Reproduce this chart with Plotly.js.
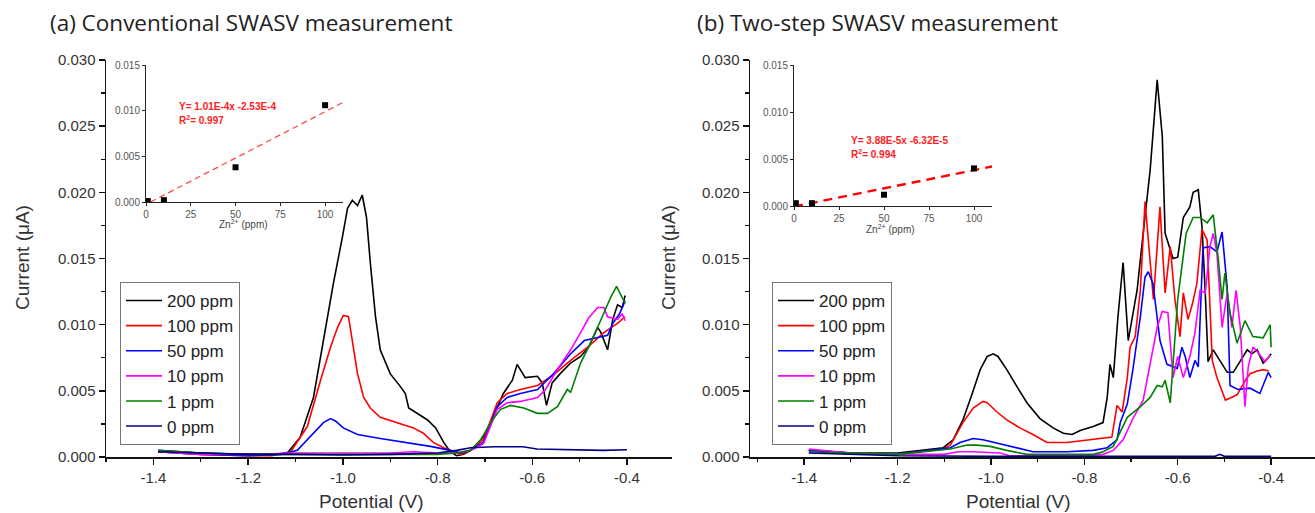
<!DOCTYPE html>
<html><head><meta charset="utf-8">
<script src="https://cdn.plot.ly/plotly-3.0.1.min.js"></script>
<style>html,body{margin:0;padding:0;background:#fff;}#chart{width:1315px;height:513px;}</style>
</head><body><div id="chart"></div>
<script>
// ---------- (a) Conventional SWASV ----------
const seriesNames = ['200 ppm','100 ppm','50 ppm','10 ppm','1 ppm','0 ppm'];
const seriesColors = ['#000000','#ff0000','#0000ff','#ff00ff','#008000','#000080'];

const convX200 = [-1.39,-1.35,-1.3,-1.25,-1.2,-1.15,-1.117,-1.09,-1.062,-1.041,-1.02,-1.001,-0.99,-0.98,-0.969,-0.959,-0.95,-0.942,-0.931,-0.921,-0.9,-0.878,-0.868,-0.861,-0.842,-0.821,-0.804,-0.787,-0.773,-0.76,-0.745,-0.73,-0.703,-0.683,-0.661,-0.642,-0.632,-0.615,-0.589,-0.579,-0.57,-0.558,-0.541,-0.519,-0.498,-0.481,-0.462,-0.455,-0.441,-0.43,-0.42,-0.41,-0.404];
const convY200 = [0.0005,0.0004,0.0003,0.00025,0.0002,0.0002,0.0003,0.0015,0.0045,0.0088,0.0131,0.0166,0.0188,0.0194,0.019,0.0198,0.0181,0.0147,0.0106,0.0081,0.0063,0.0053,0.0048,0.0037,0.0033,0.0028,0.0022,0.0011,0.0004,0.0001,0.0002,0.0005,0.0015,0.003,0.0048,0.0058,0.007,0.006,0.0061,0.0056,0.0039,0.0056,0.0063,0.0071,0.0076,0.0083,0.0098,0.0094,0.0081,0.0104,0.0115,0.0113,0.0122];

const convX100 = [-1.39,-1.3,-1.2,-1.15,-1.11,-1.075,-1.047,-1.026,-1.011,-0.999,-0.988,-0.98,-0.969,-0.956,-0.942,-0.921,-0.885,-0.851,-0.83,-0.809,-0.787,-0.766,-0.75,-0.73,-0.703,-0.674,-0.653,-0.625,-0.589,-0.555,-0.519,-0.483,-0.449,-0.42,-0.404];
const convY100 = [0.0004,0.0002,0.0001,0.0001,0.0004,0.0023,0.0058,0.0083,0.0098,0.0107,0.0106,0.0088,0.0063,0.0045,0.0037,0.003,0.0026,0.0022,0.0018,0.0011,0.0007,0.0004,0.0002,0.0005,0.0013,0.0041,0.0048,0.0051,0.0054,0.0062,0.0073,0.0083,0.0094,0.0101,0.0106];

const convX50 = [-1.39,-1.3,-1.2,-1.13,-1.096,-1.062,-1.041,-1.026,-1.015,-0.999,-0.969,-0.921,-0.864,-0.815,-0.773,-0.75,-0.73,-0.703,-0.674,-0.653,-0.625,-0.589,-0.555,-0.519,-0.49,-0.462,-0.441,-0.43,-0.416,-0.404];
const convY50 = [0.0004,0.0002,0.0001,0.0002,0.0005,0.0018,0.0026,0.0029,0.0027,0.0022,0.0017,0.0014,0.0011,0.0008,0.0005,0.0003,0.0005,0.0011,0.0038,0.0045,0.0048,0.0051,0.0063,0.0078,0.0088,0.009,0.0092,0.0101,0.0108,0.0118];

const convX10 = [-1.39,-1.3,-1.2,-1.1,-1.0,-0.9,-0.85,-0.8,-0.76,-0.73,-0.703,-0.674,-0.653,-0.625,-0.589,-0.572,-0.547,-0.519,-0.498,-0.481,-0.462,-0.449,-0.441,-0.42,-0.41,-0.404];
const convY10 = [0.0004,0.0002,0.0002,0.0003,0.0003,0.0003,0.0004,0.0003,0.0003,0.0005,0.001,0.0036,0.0041,0.0042,0.0045,0.0051,0.0066,0.0081,0.0094,0.0105,0.0113,0.0113,0.0106,0.0104,0.0108,0.0103];

const convX1 = [-1.39,-1.3,-1.2,-1.1,-1.0,-0.9,-0.8,-0.76,-0.73,-0.709,-0.688,-0.667,-0.646,-0.618,-0.589,-0.568,-0.547,-0.526,-0.519,-0.498,-0.477,-0.456,-0.434,-0.422,-0.41,-0.404];
const convY1 = [0.0005,0.0003,0.0002,0.0002,0.0002,0.0002,0.0002,0.0003,0.0005,0.0013,0.0026,0.0036,0.0039,0.0037,0.0033,0.0033,0.0038,0.0051,0.0049,0.0071,0.0086,0.0103,0.0121,0.0129,0.0121,0.0116];

const convX0 = [-1.39,-1.3,-1.2,-1.1,-1.0,-0.9,-0.8,-0.76,-0.73,-0.68,-0.62,-0.59,-0.5,-0.45,-0.4];
const convY0 = [0.0004,0.0003,0.0002,0.0002,0.00015,0.0002,0.0003,0.0005,0.0007,0.00078,0.00078,0.0006,0.00055,0.0005,0.00055];

// ---------- (b) Two-step SWASV ----------
const twoX200 = [-1.39,-1.3,-1.2,-1.102,-1.081,-1.06,-1.04,-1.023,-1.008,-0.995,-0.985,-0.966,-0.944,-0.923,-0.895,-0.867,-0.845,-0.826,-0.809,-0.781,-0.76,-0.751,-0.745,-0.738,-0.728,-0.717,-0.706,-0.687,-0.674,-0.659,-0.644,-0.633,-0.627,-0.61,-0.6,-0.588,-0.574,-0.567,-0.556,-0.548,-0.541,-0.535,-0.524,-0.509,-0.494,-0.481,-0.466,-0.451,-0.441,-0.43,-0.417,-0.406,-0.4];
const twoY200 = [0.0005,0.0003,0.0003,0.0007,0.0013,0.0028,0.0048,0.0066,0.0076,0.0078,0.0076,0.0066,0.0053,0.0041,0.0029,0.0022,0.0018,0.0017,0.002,0.0023,0.0026,0.0045,0.007,0.006,0.0106,0.0147,0.0088,0.0126,0.0169,0.0217,0.0285,0.0242,0.0169,0.015,0.0151,0.0181,0.0189,0.02,0.0202,0.0174,0.0124,0.0072,0.0081,0.0072,0.0064,0.0064,0.0073,0.0081,0.0078,0.0081,0.0071,0.0075,0.0078];

const twoX100 = [-1.39,-1.3,-1.2,-1.102,-1.087,-1.06,-1.038,-1.017,-1.008,-0.987,-0.966,-0.938,-0.91,-0.88,-0.837,-0.794,-0.766,-0.741,-0.73,-0.719,-0.708,-0.702,-0.691,-0.68,-0.67,-0.652,-0.638,-0.627,-0.616,-0.606,-0.595,-0.588,-0.578,-0.569,-0.559,-0.548,-0.537,-0.526,-0.516,-0.498,-0.485,-0.473,-0.455,-0.445,-0.43,-0.417,-0.405];
const twoY100 = [0.0005,0.0003,0.0002,0.0006,0.0009,0.0026,0.0037,0.0042,0.0041,0.0034,0.0028,0.0022,0.0017,0.0011,0.0011,0.0013,0.0014,0.0015,0.0039,0.0034,0.006,0.0083,0.0091,0.0126,0.0193,0.0119,0.0189,0.0124,0.0159,0.0119,0.0091,0.0124,0.0104,0.0115,0.0131,0.0172,0.0164,0.0073,0.006,0.0043,0.0045,0.0047,0.0058,0.0063,0.0065,0.0066,0.0065];

const twoX50 = [-1.39,-1.3,-1.2,-1.087,-1.066,-1.038,-1.017,-0.98,-0.944,-0.91,-0.837,-0.781,-0.751,-0.73,-0.723,-0.708,-0.696,-0.68,-0.67,-0.663,-0.653,-0.638,-0.623,-0.601,-0.591,-0.584,-0.574,-0.563,-0.556,-0.546,-0.531,-0.516,-0.505,-0.494,-0.488,-0.471,-0.445,-0.424,-0.406,-0.4];
const twoY50 = [0.0005,0.0003,0.0002,0.0007,0.0011,0.0014,0.0013,0.001,0.0007,0.0004,0.0004,0.0005,0.0007,0.0013,0.0026,0.004,0.0066,0.0106,0.0136,0.014,0.0131,0.0088,0.007,0.0067,0.0083,0.0076,0.006,0.0073,0.0068,0.0158,0.0159,0.0155,0.017,0.0128,0.0054,0.0051,0.0052,0.0048,0.0064,0.006];

const twoX10 = [-1.39,-1.3,-1.2,-1.1,-1.07,-1.04,-0.98,-0.96,-0.9,-0.8,-0.76,-0.738,-0.717,-0.696,-0.674,-0.659,-0.644,-0.633,-0.621,-0.61,-0.6,-0.588,-0.574,-0.563,-0.552,-0.541,-0.531,-0.524,-0.516,-0.505,-0.494,-0.484,-0.475,-0.466,-0.456,-0.449,-0.439,-0.428,-0.413,-0.402];
const twoY10 = [0.0006,0.0003,0.0002,0.0002,0.0004,0.0004,0.0003,0.0001,0.0001,0.0001,0.0002,0.0005,0.0013,0.0029,0.0043,0.0071,0.0098,0.011,0.0109,0.006,0.0076,0.006,0.0076,0.0094,0.0126,0.0124,0.0159,0.0169,0.0154,0.0098,0.0124,0.0098,0.0126,0.0098,0.0038,0.0068,0.0083,0.0079,0.0072,0.0077];

const twoX1 = [-1.39,-1.3,-1.2,-1.087,-1.051,-1.03,-1.002,-0.966,-0.923,-0.85,-0.78,-0.76,-0.738,-0.708,-0.68,-0.659,-0.644,-0.633,-0.627,-0.616,-0.61,-0.6,-0.591,-0.582,-0.567,-0.552,-0.537,-0.524,-0.513,-0.505,-0.499,-0.488,-0.473,-0.456,-0.439,-0.417,-0.402,-0.4];
const twoY1 = [0.0004,0.0003,0.0002,0.0006,0.0009,0.0009,0.0008,0.0005,0.0002,0.0002,0.0002,0.0004,0.0008,0.003,0.0038,0.0045,0.0054,0.0053,0.0058,0.0041,0.0073,0.0119,0.0144,0.0169,0.0181,0.0181,0.0177,0.0183,0.0149,0.0119,0.0139,0.0109,0.0086,0.0103,0.0091,0.009,0.01,0.0083];

const twoX0 = [-1.39,-1.2,-1.0,-0.8,-0.6,-0.52,-0.51,-0.5,-0.4];
const twoY0 = [0.0003,0.0001,0.00005,0.00005,0.00005,0.00005,0.0002,0.00005,0.00005];

// ---------- insets: calibration ----------
const calibConc = [1, 10, 50, 100];
const calibConvI = [0.0001, 0.0002, 0.0038, 0.0106];
const calibTwoI = [0.0003, 0.0003, 0.0012, 0.0040];
const fitConvX = [2.5, 110];
const fitConvY = [0.0, 0.0109];
const fitTwoX = [0, 110];
const fitTwoY = [-0.00006, 0.0042];

const potTickVals = [-1.4,-1.2,-1.0,-0.8,-0.6,-0.4];
const potTickText = ['-1.4','-1.2','-1.0','-0.8','-0.6','-0.4'];
const curTickVals = [0,0.005,0.010,0.015,0.020,0.025,0.030];
const curTickText = ['0.000','0.005','0.010','0.015','0.020','0.025','0.030'];
const insYTickVals = [0,0.005,0.010,0.015];
const insYTickText = ['0.000','0.005','0.010','0.015'];
const insXTickVals = [0,25,50,75,100];

const W = 1315, H = 513;
const px = v => v / W;
const py = v => 1 - v / H;

const convX = [convX200,convX100,convX50,convX10,convX1,convX0];
const convY = [convY200,convY100,convY50,convY10,convY1,convY0];
const twoX = [twoX200,twoX100,twoX50,twoX10,twoX1,twoX0];
const twoY = [twoY200,twoY100,twoY50,twoY10,twoY1,twoY0];

const traces = [];
seriesNames.forEach((n,i)=>{
  traces.push({x:convX[i],y:convY[i],name:n,type:'scatter',mode:'lines',xaxis:'x',yaxis:'y',
    line:{color:seriesColors[i],width:1.6},legend:'legend'});
});
seriesNames.forEach((n,i)=>{
  traces.push({x:twoX[i],y:twoY[i],name:n,type:'scatter',mode:'lines',xaxis:'x2',yaxis:'y2',
    line:{color:seriesColors[i],width:1.6},legend:'legend2'});
});
traces.push({x:fitConvX,y:fitConvY,type:'scatter',mode:'lines',xaxis:'x3',yaxis:'y3',showlegend:false,
  line:{color:'#ff4a4a',width:1.3,dash:'6px,4px'}});
traces.push({x:calibConc,y:calibConvI,type:'scatter',mode:'markers',xaxis:'x3',yaxis:'y3',showlegend:false,
  marker:{symbol:'square',size:6,color:'#000'}});
traces.push({x:fitTwoX,y:fitTwoY,type:'scatter',mode:'lines',xaxis:'x4',yaxis:'y4',showlegend:false,
  line:{color:'#ff0000',width:2.4,dash:'9px,6px'}});
traces.push({x:calibConc,y:calibTwoI,type:'scatter',mode:'markers',xaxis:'x4',yaxis:'y4',showlegend:false,
  marker:{symbol:'square',size:6,color:'#000'}});

const tickFont = {family:'Liberation Sans, Arial, sans-serif',size:15,color:'#333'};
function mainX(dom, rng, anchor){
  return {domain:dom,range:rng,anchor:anchor,showgrid:false,zeroline:false,showline:true,linecolor:'#111',linewidth:1.5,
    ticks:'outside',ticklen:6,tickwidth:1.5,tickcolor:'#111',tickmode:'array',tickvals:potTickVals,ticktext:potTickText,
    tickfont:tickFont,minor:{tick0:-1.5,dtick:0.1,ticks:'outside',ticklen:3.5,tickwidth:1.2,tickcolor:'#111',showgrid:false}};
}
function mainY(anchor){
  return {domain:[py(457),py(60)],range:[0,0.030],anchor:anchor,showgrid:false,zeroline:false,showline:true,linecolor:'#111',linewidth:1.5,
    ticks:'outside',ticklen:6,tickwidth:1.5,tickcolor:'#111',tickmode:'array',tickvals:curTickVals,ticktext:curTickText,
    tickfont:tickFont,minor:{tick0:0,dtick:0.0025,ticks:'outside',ticklen:3.5,tickwidth:1.2,tickcolor:'#111',showgrid:false}};
}
const insFont = {family:'Liberation Sans, Arial, sans-serif',size:10,color:'#555'};
function insX(dom, anchor){
  return {domain:dom,range:[0,110],anchor:anchor,showgrid:false,zeroline:false,showline:true,linecolor:'#222',linewidth:1,
    ticks:'outside',ticklen:3,tickwidth:1,tickcolor:'#222',tickmode:'array',tickvals:insXTickVals,tickfont:insFont};
}
function insY(dom, anchor){
  return {domain:dom,range:[0,0.015],anchor:anchor,showgrid:false,zeroline:false,showline:true,linecolor:'#222',linewidth:1,
    ticks:'outside',ticklen:3,tickwidth:1,tickcolor:'#222',tickmode:'array',tickvals:insYTickVals,ticktext:insYTickText,tickfont:insFont};
}

const legendBase = {xanchor:'left',yanchor:'top',bordercolor:'#777',borderwidth:1,bgcolor:'#fff',
  font:{family:'Liberation Sans, Arial, sans-serif',size:17,color:'#222'},tracegroupgap:0,itemwidth:36};

const titleFont = {family:'Open Sans, sans-serif',size:22.5,color:'#222'};
const axTitleFont = {family:'Liberation Sans, Arial, sans-serif',size:19,color:'#333'};
const eqFont = {family:'Liberation Sans, Arial, sans-serif',size:10,color:'#ff2020'};
const znFont = {family:'Liberation Sans, Arial, sans-serif',size:10,color:'#444'};

const layout = {
  width:W,height:H,margin:{l:0,r:0,t:0,b:0},paper_bgcolor:'#fff',plot_bgcolor:'rgba(0,0,0,0)',
  showlegend:true,
  xaxis:mainX([px(106),px(672)],[-1.5,-0.305],'y'),
  yaxis:mainY('x'),
  xaxis2:mainX([px(750),1],[-1.516,-0.306],'y2'),
  yaxis2:mainY('x2'),
  xaxis3:insX([px(146),px(343)],'y3'),
  yaxis3:insY([py(202),py(65)],'x3'),
  xaxis4:insX([px(794),px(992)],'y4'),
  yaxis4:insY([py(206),py(65)],'x4'),
  legend:Object.assign({x:px(120),y:py(282)},legendBase),
  legend2:Object.assign({x:px(772),y:py(282)},legendBase),
  annotations:[
    {text:'(a) Conventional SWASV measurement',xref:'paper',yref:'paper',x:px(48),y:py(22),xanchor:'left',yanchor:'middle',showarrow:false,font:titleFont},
    {text:'(b) Two-step SWASV measurement',xref:'paper',yref:'paper',x:px(695),y:py(22),xanchor:'left',yanchor:'middle',showarrow:false,font:titleFont},
    {text:'Current (μA)',xref:'paper',yref:'paper',x:px(22),y:py(258),textangle:-90,xanchor:'center',yanchor:'middle',showarrow:false,font:axTitleFont},
    {text:'Current (μA)',xref:'paper',yref:'paper',x:px(668),y:py(258),textangle:-90,xanchor:'center',yanchor:'middle',showarrow:false,font:axTitleFont},
    {text:'Potential (V)',xref:'paper',yref:'paper',x:px(371),y:py(501),xanchor:'center',yanchor:'middle',showarrow:false,font:axTitleFont},
    {text:'Potential (V)',xref:'paper',yref:'paper',x:px(1018),y:py(501),xanchor:'center',yanchor:'middle',showarrow:false,font:axTitleFont},
    {text:'<b>Y= 1.01E-4x -2.53E-4</b>',xref:'paper',yref:'paper',x:px(177),y:py(106),xanchor:'left',yanchor:'middle',showarrow:false,font:eqFont},
    {text:'<b>R<sup>2</sup>= 0.997</b>',xref:'paper',yref:'paper',x:px(177),y:py(120),xanchor:'left',yanchor:'middle',showarrow:false,font:eqFont},
    {text:'<b>Y= 3.88E-5x -6.32E-5</b>',xref:'paper',yref:'paper',x:px(849),y:py(140),xanchor:'left',yanchor:'middle',showarrow:false,font:eqFont},
    {text:'<b>R<sup>2</sup>= 0.994</b>',xref:'paper',yref:'paper',x:px(849),y:py(154),xanchor:'left',yanchor:'middle',showarrow:false,font:eqFont},
    {text:'Zn<sup>2+</sup> (ppm)',xref:'paper',yref:'paper',x:px(243),y:py(224),xanchor:'center',yanchor:'middle',showarrow:false,font:znFont},
    {text:'Zn<sup>2+</sup> (ppm)',xref:'paper',yref:'paper',x:px(890),y:py(229),xanchor:'center',yanchor:'middle',showarrow:false,font:znFont}
  ]
};
Plotly.newPlot('chart',traces,layout,{displayModeBar:false,staticPlot:true});
</script></body></html>
